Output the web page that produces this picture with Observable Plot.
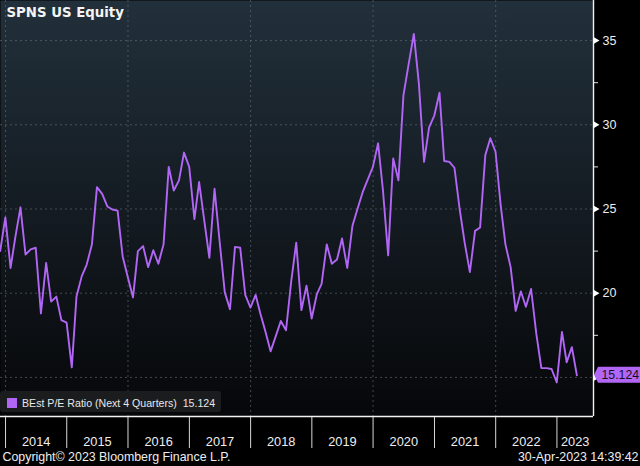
<!DOCTYPE html>
<html><head><meta charset="utf-8">
<script src="https://cdn.jsdelivr.net/npm/d3@7"></script>
<script src="https://cdn.jsdelivr.net/npm/@observablehq/plot@0.6"></script>
<style>
html,body{margin:0;padding:0;background:#000;}
#wrap{position:relative;width:640px;height:466px;overflow:hidden;background:#000;}
#legend{position:absolute;left:0px;top:391px;height:21px;width:221px;background:#1b1c1e;border-radius:3px;
  font:10.6px "Liberation Sans",Arial,sans-serif;color:#e8e8e8;display:flex;align-items:center;white-space:nowrap;}
#legend .sw{display:inline-block;width:10px;height:10px;background:#b266f5;margin:2px 5px 0 7px;}
#legend .tx{padding-top:3px;}
</style></head>
<body><div id="wrap"></div>
<script>
// ---- data ----
const seriesName = "BEst P/E Ratio (Next 4 Quarters)";
const ticker = "SPNS US Equity";
const firstMonth = [2013, 10]; // Nov 2013 (month-end values)
const peValues = [
  22.5, 24.5, 21.5, 23.3, 25.1, 22.3, 22.6, 22.7, 18.8, 21.8,
  19.5, 19.8, 18.4, 18.25, 15.6, 19.8, 21.0, 21.7, 22.9, 26.3,
  25.9, 25.15, 24.97, 24.9, 22.2, 20.95, 19.75, 22.5, 22.8, 21.55,
  22.55, 21.75, 22.9, 27.5, 26.1, 26.7, 28.35, 27.5, 24.4, 26.6,
  24.3, 22.1, 26.2, 23.1, 20.05, 19.05, 22.75, 22.7, 19.9, 19.15,
  19.9, 18.8, 17.7, 16.55, 17.45, 18.35, 17.8, 20.7, 23.0, 19.0,
  20.45, 18.5, 19.95, 20.55, 22.9, 21.75, 22.0, 23.25, 21.5, 24.0,
  25.0, 26.0, 26.75, 27.5, 28.9, 26.1, 22.25, 28.0, 26.7, 31.75,
  33.6, 35.4, 32.45, 27.8, 29.85, 30.55, 31.9, 27.85, 27.8, 27.45,
  25.0, 23.0, 21.25, 23.7, 23.9, 28.2, 29.2, 28.4, 25.2, 22.9,
  21.55, 18.95, 20.1, 19.2, 20.25, 17.6, 15.55, 15.55, 15.5, 14.7,
  17.7, 15.9, 16.8, 15.124
];
const lastValue = 15.124;
const yearLabels = ["2014","2015","2016","2017","2018","2019","2020","2021","2022","2023"];
const gridYears = [2014, 2016, 2018, 2020, 2022];
const yMajorTicks = [15, 20, 25, 30, 35];
const yLabelTicks = [20, 25, 30, 35]; // the 15 label sits under the last-value tag
const yMinorTicks = [17.5, 22.5, 27.5, 32.5];
const yDomain = [12.68, 37.38];
const xDomain = [new Date(Date.UTC(2013, 11, 2)), new Date(Date.UTC(2023, 7, 7))];
const copyright = "Copyright\u00A9 2023 Bloomberg Finance L.P.";
const timestamp = "30-Apr-2023 14:39:42";

// ---- build ----
const data = peValues.map((v, i) => ({date: new Date(Date.UTC(firstMonth[0], firstMonth[1] + i + 1, 0)), pe: v}));
const yearStarts = yearLabels.map(y => new Date(Date.UTC(+y, 0, 1)));
const yearMids = yearLabels.map((y, i) => {
  const a = yearStarts[i];
  const b = i + 1 < yearStarts.length ? yearStarts[i + 1] : xDomain[1];
  return {date: new Date((+a + +b) / 2), label: y};
});
const gridDates = gridYears.map(y => new Date(Date.UTC(y, 0, 1)));
const sans = '"Liberation Sans",Arial,sans-serif';
const lineColor = "#b266f5";

const triangle = {draw(ctx) { ctx.moveTo(0, -3.5); ctx.lineTo(6, 0); ctx.lineTo(0, 3.5); ctx.closePath(); }};

function defsMark() {
  const defs = d3.create("svg:defs");
  const g = defs.append("linearGradient").attr("id", "bgGrad").attr("x1", 0).attr("y1", 0).attr("x2", 0).attr("y2", 1);
  g.append("stop").attr("offset", "0%").attr("stop-color", "#22303b");
  g.append("stop").attr("offset", "100%").attr("stop-color", "#060709");
  return defs.node();
}

function tagMark(index, scales, values, dims) {
  const y = scales.y(lastValue);
  const x0 = dims.width - dims.marginRight;
  const g = d3.create("svg:g");
  g.append("path")
    .attr("d", `M${x0 + 1},${y} L${x0 + 5},${y - 8} H${dims.width} V${y + 8} H${x0 + 5} Z`)
    .attr("fill", lineColor);
  return g.node();
}

const chart = Plot.plot({
  width: 640, height: 466,
  marginLeft: 0, marginRight: 47, marginTop: 0, marginBottom: 50,
  style: {background: "#000", color: "#e8e8e8", fontFamily: sans, overflow: "visible"},
  x: {type: "utc", domain: xDomain},
  y: {domain: yDomain},
  marks: [
    defsMark,
    Plot.frame({fill: "url(#bgGrad)", stroke: null}),
    Plot.gridY({ticks: yMajorTicks, stroke: "#6a7078", strokeOpacity: 0.6, strokeDasharray: "2,3"}),
    Plot.gridX({ticks: gridDates, stroke: "#6a7078", strokeOpacity: 0.6, strokeDasharray: "2,3"}),
    Plot.axisY({ticks: yMinorTicks, anchor: "right", tickSize: 4, tickFormat: () => "", stroke: "#e0e0e0", label: null}),
    Plot.axisX({ticks: yearStarts, anchor: "bottom", tickSize: 32, tickFormat: () => "", stroke: "#d8d8d8", label: null}),
    Plot.ruleX([xDomain[1]], {stroke: "#f2f2f2", strokeWidth: 1.4}),
    Plot.ruleY([yDomain[0]], {stroke: "#f2f2f2", strokeWidth: 1.4}),
    Plot.dot(yMajorTicks, {y: d => d, frameAnchor: "right", symbol: triangle, r: 3, fill: "#ffffff", stroke: null}),
    Plot.text(yLabelTicks, {y: d => d, frameAnchor: "right", text: d => String(d), dx: 9, textAnchor: "start", lineAnchor: "middle", fill: "#eeeeee", fontSize: 12.5}),
    Plot.text(yearMids, {x: "date", text: "label", frameAnchor: "bottom", dy: 25.5, lineAnchor: "middle", textAnchor: "middle", fill: "#eeeeee", fontSize: 12.8}),
    Plot.lineY(data, {x: "date", y: "pe", stroke: lineColor, strokeWidth: 1.9}),
    tagMark,
    Plot.text([lastValue], {y: d => d, frameAnchor: "right", text: d => d.toFixed(3), dx: 8, textAnchor: "start", lineAnchor: "middle", fill: "#16101e", fontSize: 12.3}),
    Plot.text([ticker], {frameAnchor: "top-left", dx: 6, dy: 12.5, lineAnchor: "middle", textAnchor: "start", fill: "#f4f4f4", fontSize: 13.3, fontWeight: "bold", fontFamily: "DejaVu Sans"}),
    Plot.text([copyright], {frameAnchor: "bottom-left", dx: 2, dy: 41, lineAnchor: "middle", textAnchor: "start", fill: "#eeeeee", fontSize: 12.4}),
    Plot.text([timestamp], {frameAnchor: "bottom-right", dx: 45, dy: 41, lineAnchor: "middle", textAnchor: "end", fill: "#eeeeee", fontSize: 12.4})
  ]
});

const wrap = document.getElementById("wrap");
wrap.appendChild(chart);
const legend = document.createElement("div");
legend.id = "legend";
legend.innerHTML = `<span class="sw"></span><span class="tx">${seriesName}&nbsp;&nbsp;${lastValue.toFixed(3)}</span>`;
wrap.appendChild(legend);
</script>
</body></html>
